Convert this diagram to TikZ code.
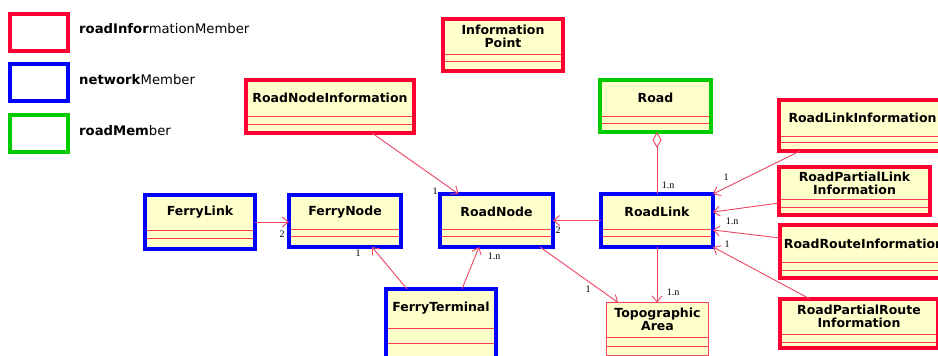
\documentclass[tikz,border=0pt]{standalone}
\usepackage{fontspec}
\setmainfont{DejaVu Sans}
\newfontfamily\multfont{Liberation Serif}
\usetikzlibrary{arrows.meta,calc}
\definecolor{cred}{RGB}{255,0,51}
\definecolor{cblue}{RGB}{0,0,255}
\definecolor{cgreen}{RGB}{0,204,0}
\definecolor{cfill}{RGB}{255,255,204}
\definecolor{cline}{RGB}{236,70,100}
\definecolor{cdiv}{RGB}{255,60,90}
\tikzset{
 redb/.style={draw=cred,line width=4.5pt},
 blueb/.style={draw=cblue,line width=4.5pt},
 greenb/.style={draw=cgreen,line width=4.5pt},
 thinb/.style={draw=cline,line width=1pt},
 divline/.style={draw=cdiv,line width=0.9pt},
 cname/.style={font=\bfseries\fontsize{12.5}{13}\selectfont,align=center,inner sep=0pt},
 conn/.style={draw=cline,line width=0.9pt,-{Straight Barb[length=6pt,width=10pt]}},
 mult/.style={font=\multfont\fontsize{10}{10}\selectfont,inner sep=0pt},
 legt/.style={font=\fontsize{13.2}{14}\selectfont,anchor=west,inner sep=0pt},
 legbox/.style={anchor=north west,minimum width=58pt,minimum height=37pt,inner sep=0pt,outer sep=0pt},
}
\newcommand\umlbox[9]{%
 \node[fill=cfill,anchor=north west,minimum width={(#5-#3)*1pt},minimum height={(#6-#4)*1pt},inner sep=0pt,outer sep=0pt] (#1) at (#3,#4) {};
 \draw[divline] ([yshift=#7pt]#1.south west) -- ([yshift=#7pt]#1.south east);
 \draw[divline] ([yshift=#8pt]#1.south west) -- ([yshift=#8pt]#1.south east);
 \draw[#2] (#1.north west) rectangle (#1.south east);
 \node[cname] (#1-t) at ($(#1.north)!0.5!([yshift=#7pt]#1.south)$) {#9};
}
\begin{document}
\begin{tikzpicture}[x=1pt,y=-1pt]
\useasboundingbox[fill=white] (0,0) rectangle (938,356);
% legend
\node[legbox,redb] (lg1) at (10,14) {};
\node[legbox,blueb] (lg2) at (10,64) {};
\node[legbox,greenb] (lg3) at (10,115) {};
\node[legt] (lt1) at (79,29) {\textbf{roadInfor}mationMember};
\node[legt] (lt2) at (79,80) {\textbf{network}Member};
\node[legt] (lt3) at (79,131) {\textbf{roadMem}ber};
% classes
\umlbox{ip}{redb}{443}{19}{563}{71}{17}{10}{Information\\Point}
\umlbox{rni}{redb}{246}{80}{414}{133}{17}{9}{RoadNodeInformation}
\umlbox{road}{greenb}{600}{80}{711}{132}{16}{9}{Road}
\umlbox{rli}{redb}{779}{100}{946}{151}{15}{9}{RoadLinkInformation}
\umlbox{rpli}{redb}{779}{167}{930}{215}{16}{8}{RoadPartialLink\\Information}
\umlbox{rri}{redb}{780}{225}{948}{278}{16}{8}{RoadRouteInformation}
\umlbox{rpri}{redb}{780}{299}{938}{348}{14}{6}{RoadPartialRoute\\Information}
\umlbox{fl}{blueb}{145}{195}{255}{249}{19}{11}{FerryLink}
\umlbox{fn}{blueb}{289}{195}{401}{247}{18}{11}{FerryNode}
\umlbox{rn}{blueb}{440}{194}{553}{247}{18}{11}{RoadNode}
\umlbox{rl}{blueb}{601}{194}{713}{247}{18}{11}{RoadLink}
\umlbox{ft}{blueb}{386}{289}{496}{358}{30}{15}{FerryTerminal}
\umlbox{ta}{thinb}{606.5}{302.5}{708.5}{355.5}{18.5}{9.5}{Topographic\\Area}
% connectors
\draw[conn] ([xshift=42pt]rni.south) -- ([xshift=-38pt]rn.north);
\draw[draw=cline,line width=0.9pt,{Diamond[open,length=16pt,width=9pt]}-] (rl.north |- road.south) -- (rl.north);
\draw[conn] ([xshift=21pt]rli.south west) -- (rl.north east);
\draw[conn] ([yshift=-12pt]rpli.west) -- ([yshift=8.5pt]rl.east);
\draw[conn] ([yshift=13.5pt]rri.west) -- ([yshift=-9.5pt]rl.east);
\draw[conn] ([xshift=30pt]rpri.north west) -- (rl.south east);
\draw[conn] (fl.east) -- (fl.east -| fn.west);
\draw[conn] ([xshift=21pt]ft.north west) -- ([xshift=27pt]fn.south);
\draw[conn] ([xshift=76pt]ft.north west) -- ([xshift=-17.5pt]rn.south);
\draw[conn] (rl.west) -- (rn.east);
\draw[conn] ([xshift=43.5pt]rn.south) -- ([xshift=-39.5pt]ta.north);
\draw[conn] (rl.south) -- (rl.south |- ta.north);
% multiplicities
\node[mult] (m1) at (435,191) {1};
\node[mult] (m2) at (668,185) {1.n};
\node[mult] (m3) at (726,177) {1};
\node[mult] (m4) at (732,221) {1.n};
\node[mult] (m5) at (727,244) {1};
\node[mult] (m6) at (282,234) {2};
\node[mult] (m7) at (358,253) {1};
\node[mult] (m8) at (494,256) {1.n};
\node[mult] (m9) at (558,230) {2};
\node[mult] (m10) at (588,289) {1};
\node[mult] (m11) at (673,292) {1.n};
\end{tikzpicture}
\end{document}
